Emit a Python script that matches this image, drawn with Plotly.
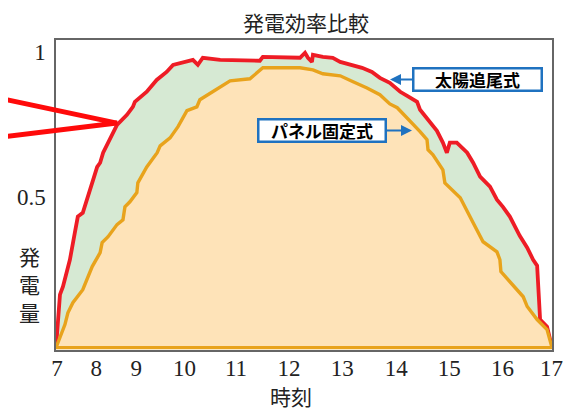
import plotly.graph_objects as go

# ---- data ----
track_hours = [7.00, 7.08, 7.14, 7.28, 7.38, 7.44, 7.54, 7.63, 7.69, 7.75, 7.83, 7.89, 7.95,
               8.09, 8.23, 8.43, 8.55, 8.59, 8.83, 9.03, 9.23, 9.36, 9.50, 9.76, 9.86, 9.96,
               10.31, 11.11, 11.17, 11.72, 11.92, 12.02, 12.08, 12.16, 12.18, 12.38, 12.58,
               12.73, 12.97, 13.17, 13.37, 13.53, 13.73, 13.94, 14.08, 14.28, 14.34, 14.60,
               14.68, 14.80, 14.88, 14.94, 15.08, 15.29, 15.41, 15.55, 15.75, 15.89, 16.01,
               16.15, 16.35, 16.50, 16.62, 16.70, 16.72, 16.76, 16.90, 17.00]
track_power = [0.000, 0.179, 0.206, 0.297, 0.389, 0.443, 0.456, 0.500, 0.534, 0.568, 0.611,
               0.625, 0.659, 0.703, 0.753, 0.787, 0.814, 0.831, 0.865, 0.905, 0.932, 0.956,
               0.963, 0.973, 0.956, 0.980, 0.973, 0.970, 0.983, 0.980, 0.980, 0.997, 0.980,
               0.966, 0.990, 0.983, 0.980, 0.966, 0.956, 0.946, 0.932, 0.912, 0.895, 0.865,
               0.851, 0.831, 0.804, 0.753, 0.733, 0.693, 0.659, 0.693, 0.693, 0.659, 0.625,
               0.578, 0.544, 0.500, 0.476, 0.443, 0.378, 0.338, 0.297, 0.277, 0.206, 0.095,
               0.071, 0.000]

fixed_hours = [7.00, 7.18, 7.24, 7.34, 7.54, 7.69, 7.73, 7.89, 7.93, 8.05, 8.23, 8.35, 8.39,
               8.49, 8.63, 8.65, 8.83, 9.04, 9.10, 9.30, 9.46, 9.64, 9.84, 9.90, 10.17, 10.51,
               10.91, 11.11, 11.17, 11.92, 12.18, 12.38, 12.73, 12.99, 13.27, 13.53, 13.73,
               13.88, 14.08, 14.24, 14.34, 14.48, 14.50, 14.60, 14.74, 14.80, 14.84, 15.15,
               15.41, 15.61, 15.89, 15.95, 15.97, 16.42, 16.50, 16.70, 16.90, 17.00]
fixed_power = [0.000, 0.078, 0.118, 0.152, 0.196, 0.253, 0.274, 0.321, 0.355, 0.375, 0.416,
               0.432, 0.476, 0.493, 0.524, 0.557, 0.611, 0.659, 0.682, 0.709, 0.747, 0.801,
               0.814, 0.838, 0.865, 0.902, 0.909, 0.939, 0.946, 0.946, 0.939, 0.926, 0.919,
               0.899, 0.878, 0.855, 0.824, 0.811, 0.777, 0.747, 0.730, 0.703, 0.669, 0.652,
               0.618, 0.601, 0.557, 0.507, 0.422, 0.358, 0.324, 0.297, 0.257, 0.172, 0.139,
               0.095, 0.061, 0.000]

x_tick_labels = ["7", "8", "9", "10", "11", "12", "13", "14", "15", "16", "17"]
x_tick_pos = [7.02, 7.81, 8.62, 9.59, 10.63, 11.70, 12.77, 13.86, 14.93, 16.00, 16.99]
y_tick_vals = [0.51, 1.0]
y_tick_labels = ["0.5", "1"]

title_text = "発電効率比較"
x_title = "時刻"
y_title_chars = ["発", "電", "量"]
label_track = "太陽追尾式"
label_fixed = "パネル固定式"

SERIF = "Liberation Serif"
JP = "Noto Sans CJK JP"
BLUE = "#1F72C0"

fig = go.Figure()
fig.add_trace(go.Scatter(
    x=track_hours, y=track_power, mode="lines", fill="tozeroy",
    fillcolor="#D6E9D3", line=dict(color="#EE1C25", width=3.8),
    hoverinfo="skip", showlegend=False))
fig.add_trace(go.Scatter(
    x=fixed_hours + [fixed_hours[-1], fixed_hours[0]],
    y=fixed_power + [0, 0], mode="lines", fill="toself",
    fillcolor="#FEE3B8", line=dict(color="#E8A31C", width=3.4),
    hoverinfo="skip", showlegend=False))

# the page body adds an 8px margin, so the figure is 8px smaller than the window
fig.update_layout(
    width=577, height=402,
    margin=dict(l=48, r=33, t=32, b=60, autoexpand=False),
    paper_bgcolor="white", plot_bgcolor="white",
    showlegend=False,
    xaxis=dict(range=[7, 17], tickvals=x_tick_pos, ticktext=x_tick_labels,
               automargin=False,
               showgrid=False, zeroline=False, ticks="",
               showline=True, mirror=True, linecolor="#666666", linewidth=1.5,
               ticklabelstandoff=-3,
               tickfont=dict(family=SERIF, size=23, color="#222")),
    yaxis=dict(range=[-0.008, 1.04], tickvals=y_tick_vals, ticktext=y_tick_labels,
               automargin=False,
               showgrid=False, zeroline=False, ticks="",
               showline=True, mirror=True, linecolor="#666666", linewidth=1.5,
               ticklabelstandoff=4,
               tickfont=dict(family=SERIF, size=23, color="#222")),
)

box_font = dict(family=JP, size=17, color="black", weight=600)
annotations = [
    dict(text=title_text, xref="paper", yref="paper", x=0.504, y=1.058,
         xanchor="center", yanchor="middle", borderpad=0,
         showarrow=False, font=dict(family=JP, size=21, color="#222")),
    dict(text=x_title, xref="paper", yref="paper", x=0.474, y=-0.148,
         xanchor="center", yanchor="middle",
         showarrow=False, font=dict(family=JP, size=21, color="#222")),
    dict(text=label_track, xref="paper", yref="paper", x=0.6734, y=0.8726,
         ax=87.5, ay=0, showarrow=True, arrowhead=2, arrowsize=1.1, arrowwidth=2,
         arrowcolor=BLUE, standoff=0, bgcolor="white", bordercolor=BLUE,
         borderwidth=2.5, borderpad=1, width=124, height=18, font=box_font),
    dict(text=label_fixed, xref="paper", yref="paper", x=0.7177, y=0.708,
         ax=-90, ay=0, showarrow=True, arrowhead=2, arrowsize=1.1, arrowwidth=2,
         arrowcolor=BLUE, standoff=0, bgcolor="white", bordercolor=BLUE,
         borderwidth=2.5, borderpad=1, width=123, height=18, font=box_font),
]
# vertical y-axis title, one character per line
for i, ch in enumerate(y_title_chars):
    annotations.append(dict(text=ch, xref="paper", yref="paper",
                            x=-0.0544, y=0.303 - i * 0.09,
                            xanchor="center", yanchor="middle", showarrow=False,
                            font=dict(family=JP, size=21, color="#222")))
fig.update_layout(annotations=annotations)

fig.add_shape(type="path", xref="paper", yref="paper",
              path="M -0.125,0.816 L 0.123,0.732 L -0.125,0.684",
              line=dict(color="#FF0A0A", width=5), layer="above")

fig.write_html("out.html")
